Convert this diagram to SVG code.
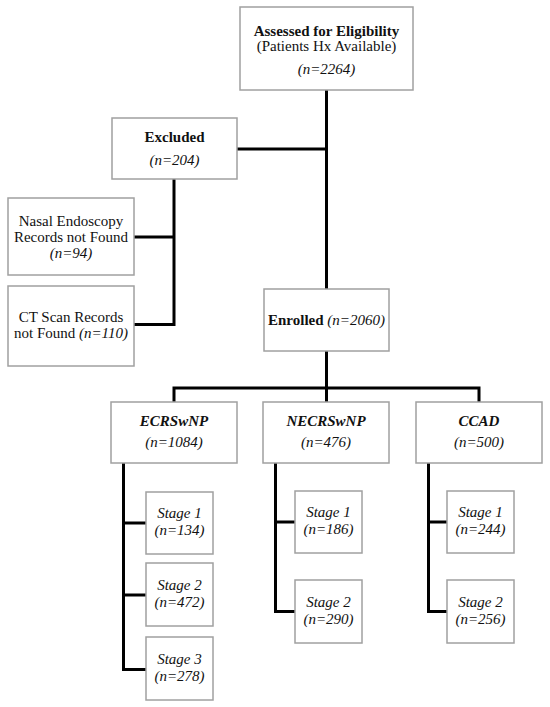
<svg xmlns="http://www.w3.org/2000/svg" width="550" height="707" viewBox="0 0 550 707">
<style>
.box{fill:#fff;stroke:#a0a0a0;stroke-width:1.5}
.t{font-family:"Liberation Serif","Times New Roman",serif;font-size:15px;fill:#111;text-anchor:middle}
.b{font-weight:bold}
.i{font-style:italic}
.conn{fill:none;stroke:#000;stroke-width:3;stroke-linejoin:miter;stroke-linecap:butt}
</style>
<rect width="550" height="707" fill="#fff"/>
<g id="connectors" class="conn">
<path d="M326.5 90V289"/>
<path d="M237 149H326.5"/>
<path d="M174 179V324.5H134"/>
<path d="M134 237H174"/>
<path d="M326.5 351V388"/>
<path d="M174 402V388H479V402"/>
<path d="M326.5 388V402"/>
<path d="M123.5 463V669.5H146"/>
<path d="M123.5 523H146"/>
<path d="M123.5 595H146"/>
<path d="M275.5 463V611.5H295"/>
<path d="M275.5 522H295"/>
<path d="M428.5 463V611.5H447"/>
<path d="M428.5 522H447"/>
</g>
<g id="assessed">
<rect class="box" x="240" y="7" width="173" height="83"/>
<text class="t b" x="326.5" y="36">Assessed for Eligibility</text>
<text class="t" x="326.5" y="51">(Patients Hx Available)</text>
<text class="t i" x="326.5" y="74">(n=2264)</text>
</g>
<g id="excluded">
<rect class="box" x="112" y="118" width="125" height="61"/>
<text class="t b" x="174.5" y="142">Excluded</text>
<text class="t i" x="174.5" y="165">(n=204)</text>
</g>
<g id="nasal">
<rect class="box" x="8" y="198" width="126" height="77"/>
<text class="t" x="71" y="226">Nasal Endoscopy</text>
<text class="t" x="71" y="242">Records not Found</text>
<text class="t i" x="71" y="258">(n=94)</text>
</g>
<g id="ct">
<rect class="box" x="8" y="286" width="126" height="80"/>
<text class="t" x="71" y="322">CT Scan Records</text>
<text class="t" x="71" y="338">not Found <tspan class="i">(n=110)</tspan></text>
</g>
<g id="enrolled">
<rect class="box" x="264" y="289" width="125" height="62"/>
<text class="t" x="326.5" y="325"><tspan class="b">Enrolled</tspan> <tspan class="i">(n=2060)</tspan></text>
</g>
<g id="ecrswnp">
<rect class="box" x="111" y="402" width="126" height="61"/>
<text class="t b i" x="174" y="426">ECRSwNP</text>
<text class="t i" x="174" y="447">(n=1084)</text>
</g>
<g id="necrswnp">
<rect class="box" x="263" y="402" width="126" height="61"/>
<text class="t b i" x="326" y="426">NECRSwNP</text>
<text class="t i" x="326" y="447">(n=476)</text>
</g>
<g id="ccad">
<rect class="box" x="416" y="402" width="126" height="61"/>
<text class="t b i" x="479" y="426">CCAD</text>
<text class="t i" x="479" y="447">(n=500)</text>
</g>
<g id="e1">
<rect class="box" x="146" y="492" width="67" height="62"/>
<text class="t i" x="179.5" y="518">Stage 1</text>
<text class="t i" x="179.5" y="535">(n=134)</text>
</g>
<g id="e2">
<rect class="box" x="146" y="563" width="67" height="63"/>
<text class="t i" x="179.5" y="590">Stage 2</text>
<text class="t i" x="179.5" y="607">(n=472)</text>
</g>
<g id="e3">
<rect class="box" x="146" y="637" width="67" height="63"/>
<text class="t i" x="179.5" y="664">Stage 3</text>
<text class="t i" x="179.5" y="681">(n=278)</text>
</g>
<g id="n1">
<rect class="box" x="295" y="491" width="67" height="62"/>
<text class="t i" x="328.5" y="517">Stage 1</text>
<text class="t i" x="328.5" y="534">(n=186)</text>
</g>
<g id="n2">
<rect class="box" x="295" y="580" width="67" height="63"/>
<text class="t i" x="328.5" y="607">Stage 2</text>
<text class="t i" x="328.5" y="624">(n=290)</text>
</g>
<g id="c1">
<rect class="box" x="447" y="491" width="67" height="62"/>
<text class="t i" x="480.5" y="517">Stage 1</text>
<text class="t i" x="480.5" y="534">(n=244)</text>
</g>
<g id="c2">
<rect class="box" x="447" y="580" width="67" height="63"/>
<text class="t i" x="480.5" y="607">Stage 2</text>
<text class="t i" x="480.5" y="624">(n=256)</text>
</g>
</svg>
